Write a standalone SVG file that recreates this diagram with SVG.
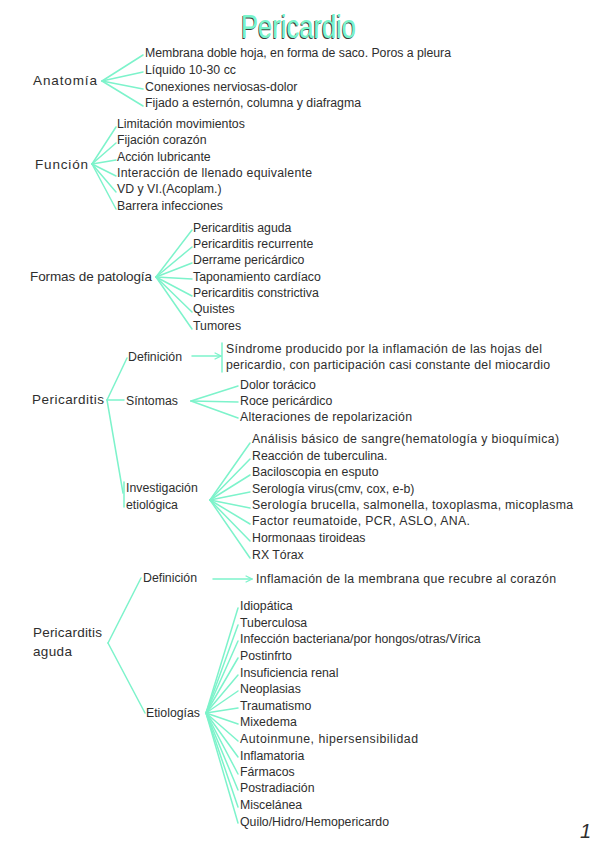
<svg xmlns="http://www.w3.org/2000/svg" width="599" height="848" viewBox="0 0 599 848">
<style>
text{font-family:"Liberation Sans",Arial,sans-serif;fill:#2e2e2e;font-size:12.3px}
.sec{font-size:13.5px}
.c line{stroke:#7df3cb;stroke-width:1.5;fill:none;stroke-linecap:round}
.title{font-size:33px;fill:#7af5cb}
.sh{font-size:33px;fill:#3a3a3a}
</style>
<defs>
<marker id="ah" viewBox="0 0 10 10" refX="9" refY="5" markerWidth="8" markerHeight="8" orient="auto" markerUnits="userSpaceOnUse">
<polyline points="1,1 9,5 1,9" fill="none" stroke="#7df3cb" stroke-width="1.6"/>
</marker>
</defs>
<rect width="599" height="848" fill="#fff"/>
<g id="title">
<text class="sh" x="240.2" y="38.8" textLength="115" lengthAdjust="spacingAndGlyphs">Pericardio</text>
<text class="title" x="241" y="38" textLength="115" lengthAdjust="spacingAndGlyphs">Pericardio</text>
</g>
<g class="c" id="connectors">
<line x1="102" y1="81" x2="143" y2="55"/>
<line x1="102" y1="81" x2="143" y2="72"/>
<line x1="102" y1="81" x2="143" y2="89"/>
<line x1="102" y1="81" x2="143" y2="106"/>
<line x1="92" y1="164" x2="116" y2="127"/>
<line x1="92" y1="164" x2="116" y2="143"/>
<line x1="92" y1="164" x2="116" y2="160"/>
<line x1="92" y1="164" x2="116" y2="176"/>
<line x1="92" y1="164" x2="116" y2="192"/>
<line x1="92" y1="164" x2="116" y2="209"/>
<line x1="156" y1="277" x2="192" y2="230"/>
<line x1="156" y1="277" x2="192" y2="247"/>
<line x1="156" y1="277" x2="192" y2="263"/>
<line x1="156" y1="277" x2="192" y2="279"/>
<line x1="156" y1="277" x2="192" y2="296"/>
<line x1="156" y1="277" x2="192" y2="312"/>
<line x1="156" y1="277" x2="192" y2="329"/>
<line x1="107" y1="400" x2="127" y2="358"/>
<line x1="107" y1="400" x2="124" y2="400"/>
<line x1="107" y1="400" x2="123" y2="493"/>
<line x1="124" y1="482" x2="124" y2="507"/>
<line x1="192" y1="356" x2="221" y2="356" marker-end="url(#ah)"/>
<line x1="222" y1="343" x2="222" y2="372"/>
<line x1="191" y1="401" x2="238" y2="386"/>
<line x1="191" y1="401" x2="238" y2="402"/>
<line x1="191" y1="401" x2="238" y2="418"/>
<line x1="210" y1="500" x2="250" y2="443"/>
<line x1="210" y1="500" x2="250" y2="459"/>
<line x1="210" y1="500" x2="250" y2="475"/>
<line x1="210" y1="500" x2="250" y2="492"/>
<line x1="210" y1="500" x2="250" y2="508"/>
<line x1="210" y1="500" x2="250" y2="524"/>
<line x1="210" y1="500" x2="250" y2="541"/>
<line x1="210" y1="500" x2="250" y2="558"/>
<line x1="108" y1="643" x2="141" y2="578"/>
<line x1="108" y1="643" x2="145" y2="713"/>
<line x1="213" y1="579" x2="252" y2="579" marker-end="url(#ah)"/>
<line x1="206" y1="713" x2="238" y2="608"/>
<line x1="206" y1="713" x2="238" y2="625"/>
<line x1="206" y1="713" x2="238" y2="641"/>
<line x1="206" y1="713" x2="238" y2="658"/>
<line x1="206" y1="713" x2="238" y2="675"/>
<line x1="206" y1="713" x2="238" y2="691"/>
<line x1="206" y1="713" x2="238" y2="708"/>
<line x1="206" y1="713" x2="238" y2="724"/>
<line x1="206" y1="713" x2="238" y2="741"/>
<line x1="206" y1="713" x2="238" y2="757"/>
<line x1="206" y1="713" x2="238" y2="774"/>
<line x1="206" y1="713" x2="238" y2="790"/>
<line x1="206" y1="713" x2="238" y2="807"/>
<line x1="206" y1="713" x2="238" y2="823"/>
</g>
<g id="anatomia">
<text class="sec" x="33" y="85" textLength="64">Anatomía</text>
<text x="145" y="57" textLength="306">Membrana doble hoja, en forma de saco. Poros a pleura</text>
<text x="145" y="74">Líquido 10-30 cc</text>
<text x="145" y="91">Conexiones nerviosas-dolor</text>
<text x="145" y="107">Fijado a esternón, columna y diafragma</text>
</g>
<g id="funcion">
<text class="sec" x="35" y="169" textLength="53">Función</text>
<text x="117" y="128">Limitación movimientos</text>
<text x="117" y="144">Fijación corazón</text>
<text x="117" y="161">Acción lubricante</text>
<text x="117" y="177" textLength="195">Interacción de llenado equivalente</text>
<text x="117" y="193">VD y VI.(Acoplam.)</text>
<text x="117" y="210">Barrera infecciones</text>
</g>
<g id="formas">
<text class="sec" x="30" y="281" textLength="122">Formas de patología</text>
<text x="193" y="232">Pericarditis aguda</text>
<text x="193" y="248">Pericarditis recurrente</text>
<text x="193" y="264">Derrame pericárdico</text>
<text x="193" y="281">Taponamiento cardíaco</text>
<text x="193" y="297">Pericarditis constrictiva</text>
<text x="193" y="313">Quistes</text>
<text x="193" y="330">Tumores</text>
</g>
<g id="pericarditis">
<text class="sec" x="32" y="404" textLength="72">Pericarditis</text>
</g>
<g id="definicion1">
<text x="128" y="361">Definición</text>
<text x="226" y="353" textLength="316">Síndrome producido por la inflamación de las hojas del</text>
<text x="226" y="369" textLength="324">pericardio, con participación casi constante del miocardio</text>
</g>
<g id="sintomas">
<text x="126" y="405">Síntomas</text>
<text x="240" y="389">Dolor torácico</text>
<text x="240" y="405">Roce pericárdico</text>
<text x="240" y="421" textLength="172">Alteraciones de repolarización</text>
</g>
<g id="investigacion">
<text x="126" y="492">Investigación</text>
<text x="126" y="509">etiológica</text>
<text x="252" y="443" textLength="307">Análisis básico de sangre(hematología y bioquímica)</text>
<text x="252" y="460">Reacción de tuberculina.</text>
<text x="252" y="476">Baciloscopia en esputo</text>
<text x="252" y="493">Serología virus(cmv, cox, e-b)</text>
<text x="252" y="509" textLength="321">Serología brucella, salmonella, toxoplasma, micoplasma</text>
<text x="252" y="525" textLength="218">Factor reumatoide, PCR, ASLO, ANA.</text>
<text x="252" y="542">Hormonaas tiroideas</text>
<text x="252" y="559">RX Tórax</text>
</g>
<g id="aguda">
<text class="sec" x="33" y="637" textLength="69">Pericarditis</text>
<text class="sec" x="33" y="656" textLength="39">aguda</text>
</g>
<g id="definicion2">
<text x="143" y="582">Definición</text>
<text x="256" y="583" textLength="300">Inflamación de la membrana que recubre al corazón</text>
</g>
<g id="etiologias">
<text x="146" y="717">Etiologías</text>
<text x="240" y="610">Idiopática</text>
<text x="240" y="627">Tuberculosa</text>
<text x="240" y="643">Infección bacteriana/por hongos/otras/Vírica</text>
<text x="240" y="660">Postinfrto</text>
<text x="240" y="677">Insuficiencia renal</text>
<text x="240" y="693">Neoplasias</text>
<text x="240" y="710">Traumatismo</text>
<text x="240" y="726">Mixedema</text>
<text x="240" y="743" textLength="178">Autoinmune, hipersensibilidad</text>
<text x="240" y="760">Inflamatoria</text>
<text x="240" y="776">Fármacos</text>
<text x="240" y="792">Postradiación</text>
<text x="240" y="809">Miscelánea</text>
<text x="240" y="826">Quilo/Hidro/Hemopericardo</text>
</g>
<text x="580" y="838" style="font-size:20px;font-style:italic">1</text>
</svg>
